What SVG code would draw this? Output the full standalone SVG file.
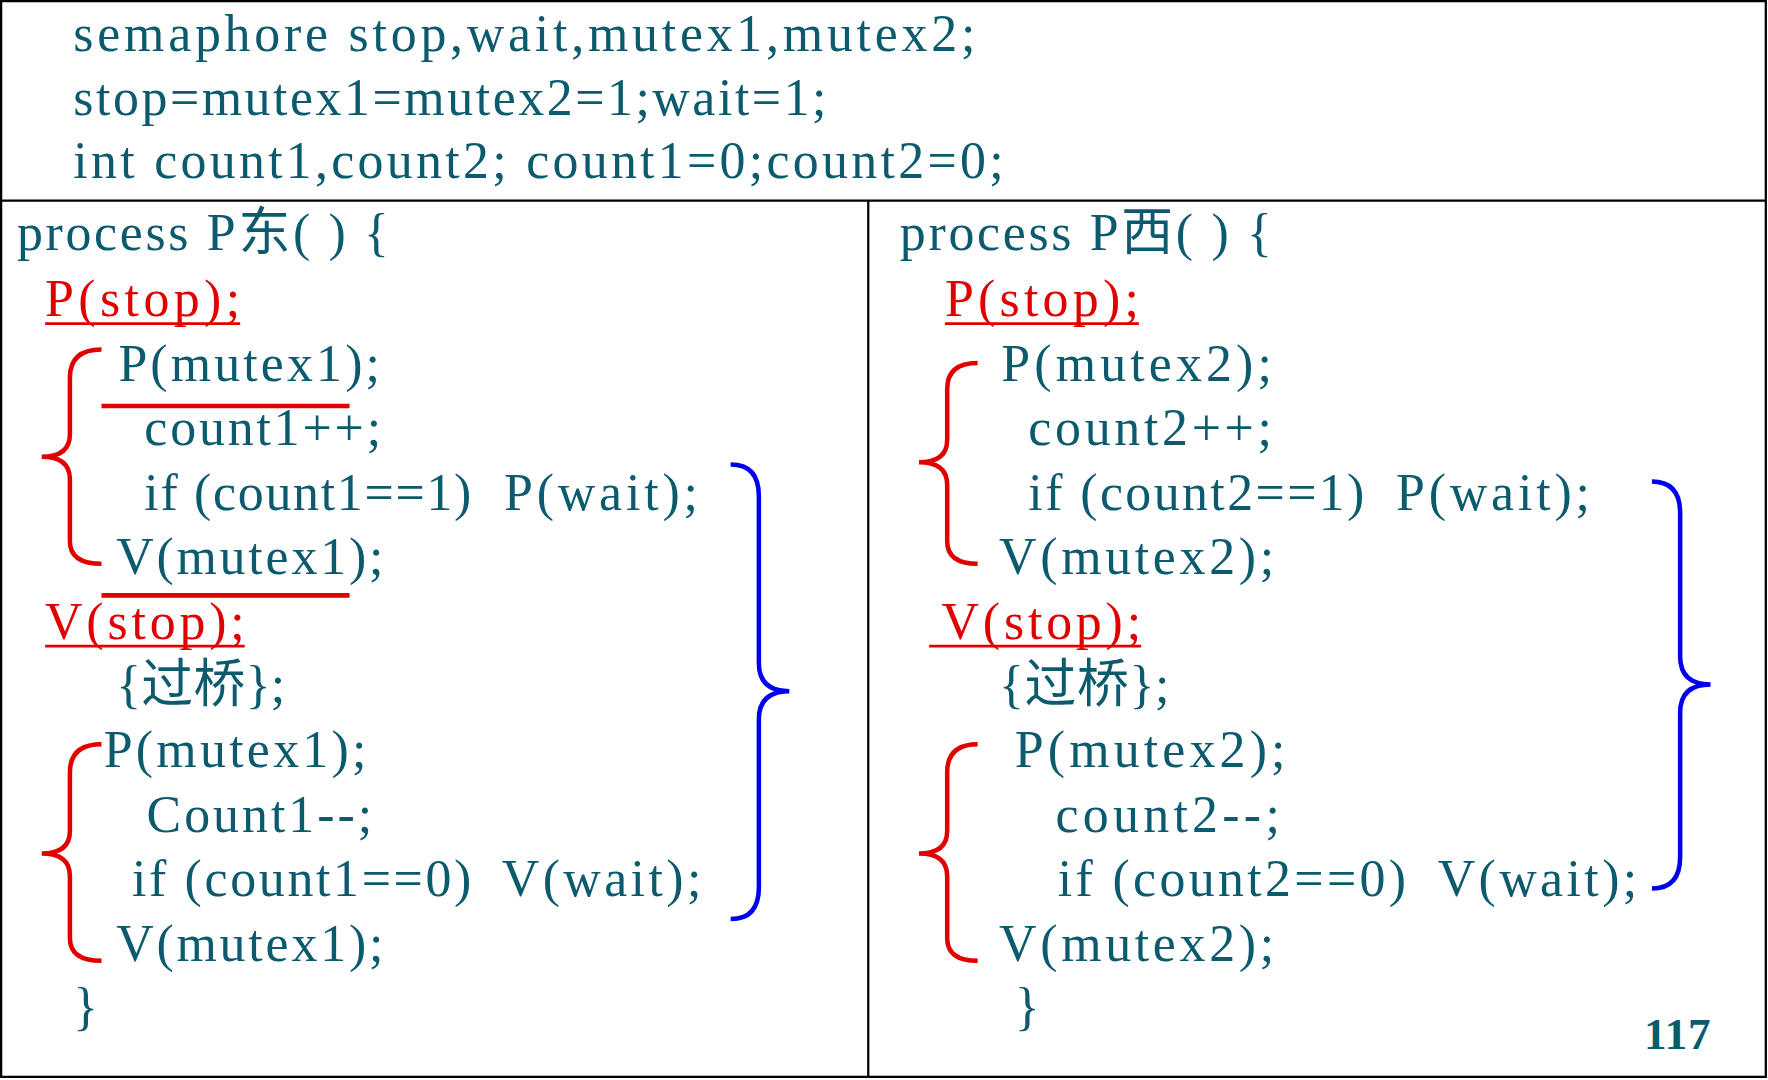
<svg xmlns="http://www.w3.org/2000/svg" width="1768" height="1080" viewBox="0 0 1768 1080">
<style>
text{font-family:"Liberation Serif","Noto Sans CJK SC",serif;font-size:46px;fill:#0b5a6e}
.r{fill:#e00000}
.rl{stroke:#e00000;stroke-width:4;fill:none}
.ul{stroke:#e00000;stroke-width:2.5}
.bl{stroke:#0000ee;stroke-width:4;fill:none}
.frame{stroke:#000;stroke-width:2;fill:none}
</style>
<rect width="1768" height="1080" fill="#fff"/>
<g transform="scale(1.1276)">
<g id="frame">
<rect class="frame" x="1" y="1" width="1565" height="954"/>
<line class="frame" x1="1" y1="178" x2="1566" y2="178"/>
<line class="frame" x1="770" y1="178" x2="770" y2="955"/>
</g>
<g id="header">
<text x="65" y="45" textLength="800">semaphore stop,wait,mutex1,mutex2;</text>
<text x="65" y="102" textLength="668">stop=mutex1=mutex2=1;wait=1;</text>
<text x="65" y="158" textLength="825">int count1,count2; count1=0;count2=0;</text>
</g>
<g id="east">
<text x="15" y="222" textLength="330">process P东( ) {</text>
<text class="r" x="40" y="280" textLength="173">P(stop);</text>
<text x="105" y="338" textLength="232">P(mutex1);</text>
<text x="128" y="395" textLength="210">count1++;</text>
<text x="128" y="452" textLength="290">if (count1==1)</text>
<text x="447" y="452" textLength="172">P(wait);</text>
<text x="103" y="509" textLength="237">V(mutex1);</text>
<text class="r" x="40" y="567" textLength="177">V(stop);</text>
<text x="103" y="623" textLength="150">{过桥};</text>
<text x="92" y="680" textLength="233">P(mutex1);</text>
<text x="130" y="738" textLength="200">Count1--;</text>
<text x="117" y="795" textLength="301">if (count1==0)</text>
<text x="445" y="795" textLength="177">V(wait);</text>
<text x="103" y="852" textLength="237">V(mutex1);</text>
<text x="65" y="908">}</text>
</g>
<g id="west">
<text x="798" y="222" textLength="330">process P西( ) {</text>
<text class="r" x="838" y="280" textLength="172">P(stop);</text>
<text x="888" y="338" textLength="240">P(mutex2);</text>
<text x="912" y="395" textLength="216">count2++;</text>
<text x="912" y="452" textLength="298">if (count2==1)</text>
<text x="1238" y="452" textLength="172">P(wait);</text>
<text x="886" y="509" textLength="244">V(mutex2);</text>
<text class="r" x="835" y="567" textLength="177">V(stop);</text>
<text x="886" y="623" textLength="151">{过桥};</text>
<text x="900" y="680" textLength="240">P(mutex2);</text>
<text x="936" y="738" textLength="199">count2--;</text>
<text x="938" y="795" textLength="309">if (count2==0)</text>
<text x="1275" y="795" textLength="177">V(wait);</text>
<text x="886" y="852" textLength="244">V(mutex2);</text>
<text x="900" y="908">}</text>
<text x="1458" y="930" textLength="59" style="font-weight:bold;font-size:40px">117</text>
</g>
<g id="connectors">
<line class="ul" x1="40" y1="287" x2="213" y2="287"/>
<line class="ul" x1="40" y1="573" x2="217" y2="573"/>
<line class="ul" x1="838" y1="287" x2="1010" y2="287"/>
<line class="ul" x1="824" y1="573" x2="1012" y2="573"/>
<line class="rl" x1="90" y1="360" x2="310" y2="360"/>
<line class="rl" x1="90" y1="528" x2="310" y2="528"/>
<path class="rl" d="M90,310 Q62,310 62,335 L62,385 Q62,405 37,405 Q62,405 62,425 L62,480 Q62,500 90,500"/>
<path class="rl" d="M90,660 Q62,660 62,685 L62,737 Q62,757 37,757 Q62,757 62,777 L62,832 Q62,852 90,852"/>
<path class="rl" d="M867,322 Q840,322 840,345 L840,390 Q840,410 815,410 Q840,410 840,430 L840,480 Q840,500 867,500"/>
<path class="rl" d="M867,660 Q840,660 840,685 L840,737 Q840,757 815,757 Q840,757 840,777 L840,832 Q840,852 867,852"/>
<path class="bl" d="M648,412 Q673,412 673,440 L673,588 Q673,613 700,613 Q673,613 673,638 L673,787 Q673,815 648,815"/>
<path class="bl" d="M1465,427 Q1490,427 1490,455 L1490,582 Q1490,607 1517,607 Q1490,607 1490,632 L1490,760 Q1490,788 1465,788"/>
</g>
</g>
</svg>
